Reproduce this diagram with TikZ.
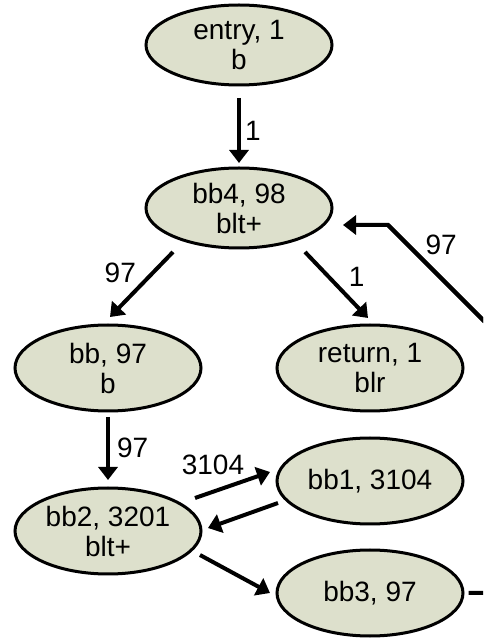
\documentclass[tikz,border=0pt]{standalone}
\usepackage{fontspec}
\setmainfont{Liberation Sans}
\usetikzlibrary{shapes.geometric,arrows.meta}
\definecolor{nodefill}{HTML}{DDE0CC}
\begin{document}
\begin{tikzpicture}[x=1pt,y=1pt,
  bnode/.style={ellipse, draw=black, line width=3pt, fill=nodefill, inner sep=0pt,
    minimum width=186pt, minimum height=86pt, align=center,
    font=\fontsize{28}{30}\selectfont},
  tnode/.style={bnode, minimum height=80pt},
  edge/.style={line width=4pt, -{Triangle[length=13pt,width=19pt]}},
  plainedge/.style={line width=4pt},
  lbl/.style={inner sep=0pt, font=\fontsize{28}{30}\selectfont}]
\useasboundingbox (0,0) rectangle (483,638);
\clip (0,0) rectangle (483,638);

% nodes
\node[tnode] (entry) at (239,593) {entry, 1\\b};
\node[tnode] (bb4) at (239,430) {bb4, 98\\blt+};
\node[bnode] (bb) at (108,270) {bb, 97\\b};
\node[bnode] (ret) at (370,270) {return, 1\\blr};
\node[bnode] (bb1) at (370,157) {bb1, 3104};
\node[bnode] (bb2) at (108,107) {bb2, 3201\\blt+};
\node[bnode] (bb3) at (370,45) {bb3, 97};

% edges
\draw[edge] ([shift={(0,-53)}]entry.center) -- ([shift={(0,45)}]bb4.center)
  node[lbl, pos=0.5, anchor=west, xshift=4pt] {1};
\draw[edge] ([shift={(-66,-44)}]bb4.center) -- ([shift={(2,51)}]bb.center)
  node[lbl, pos=0.32, anchor=east, xshift=-15pt] {97};
\draw[edge] ([shift={(66,-44)}]bb4.center) -- ([shift={(-2,50)}]ret.center)
  node[lbl, pos=0.38, anchor=west, xshift=18pt] {1};
\draw[edge] ([shift={(0,-49)}]bb.center) -- ([shift={(0,51)}]bb2.center)
  node[lbl, pos=0.49, anchor=west, xshift=7pt] {97};
\draw[edge] ([shift={(87,33)}]bb2.center) -- ([shift={(-100,9)}]bb1.center)
  node[lbl, pos=0.24, anchor=south, yshift=15pt] {3104};
\draw[edge] ([shift={(-92,-22)}]bb1.center) -- ([shift={(100,3)}]bb2.center);
\draw[edge] ([shift={(92,-24)}]bb2.center) -- ([shift={(-100,0)}]bb3.center);

% back edge bb3 -> bb4 (runs off the right edge)
\coordinate (c0) at (500,45);
\coordinate (c2) at (500,301);
\coordinate (c1) at (388,413);
\draw[plainedge] ([xshift=4pt]bb3.east) -- (c0) -- (c2) -- (c1)
  node[lbl, pos=0.82, anchor=center, xshift=33pt] {97};
\draw[edge, line join=miter] (c2) -- (c1) -- ([shift={(104,-17)}]bb4.center);
\end{tikzpicture}
\end{document}
